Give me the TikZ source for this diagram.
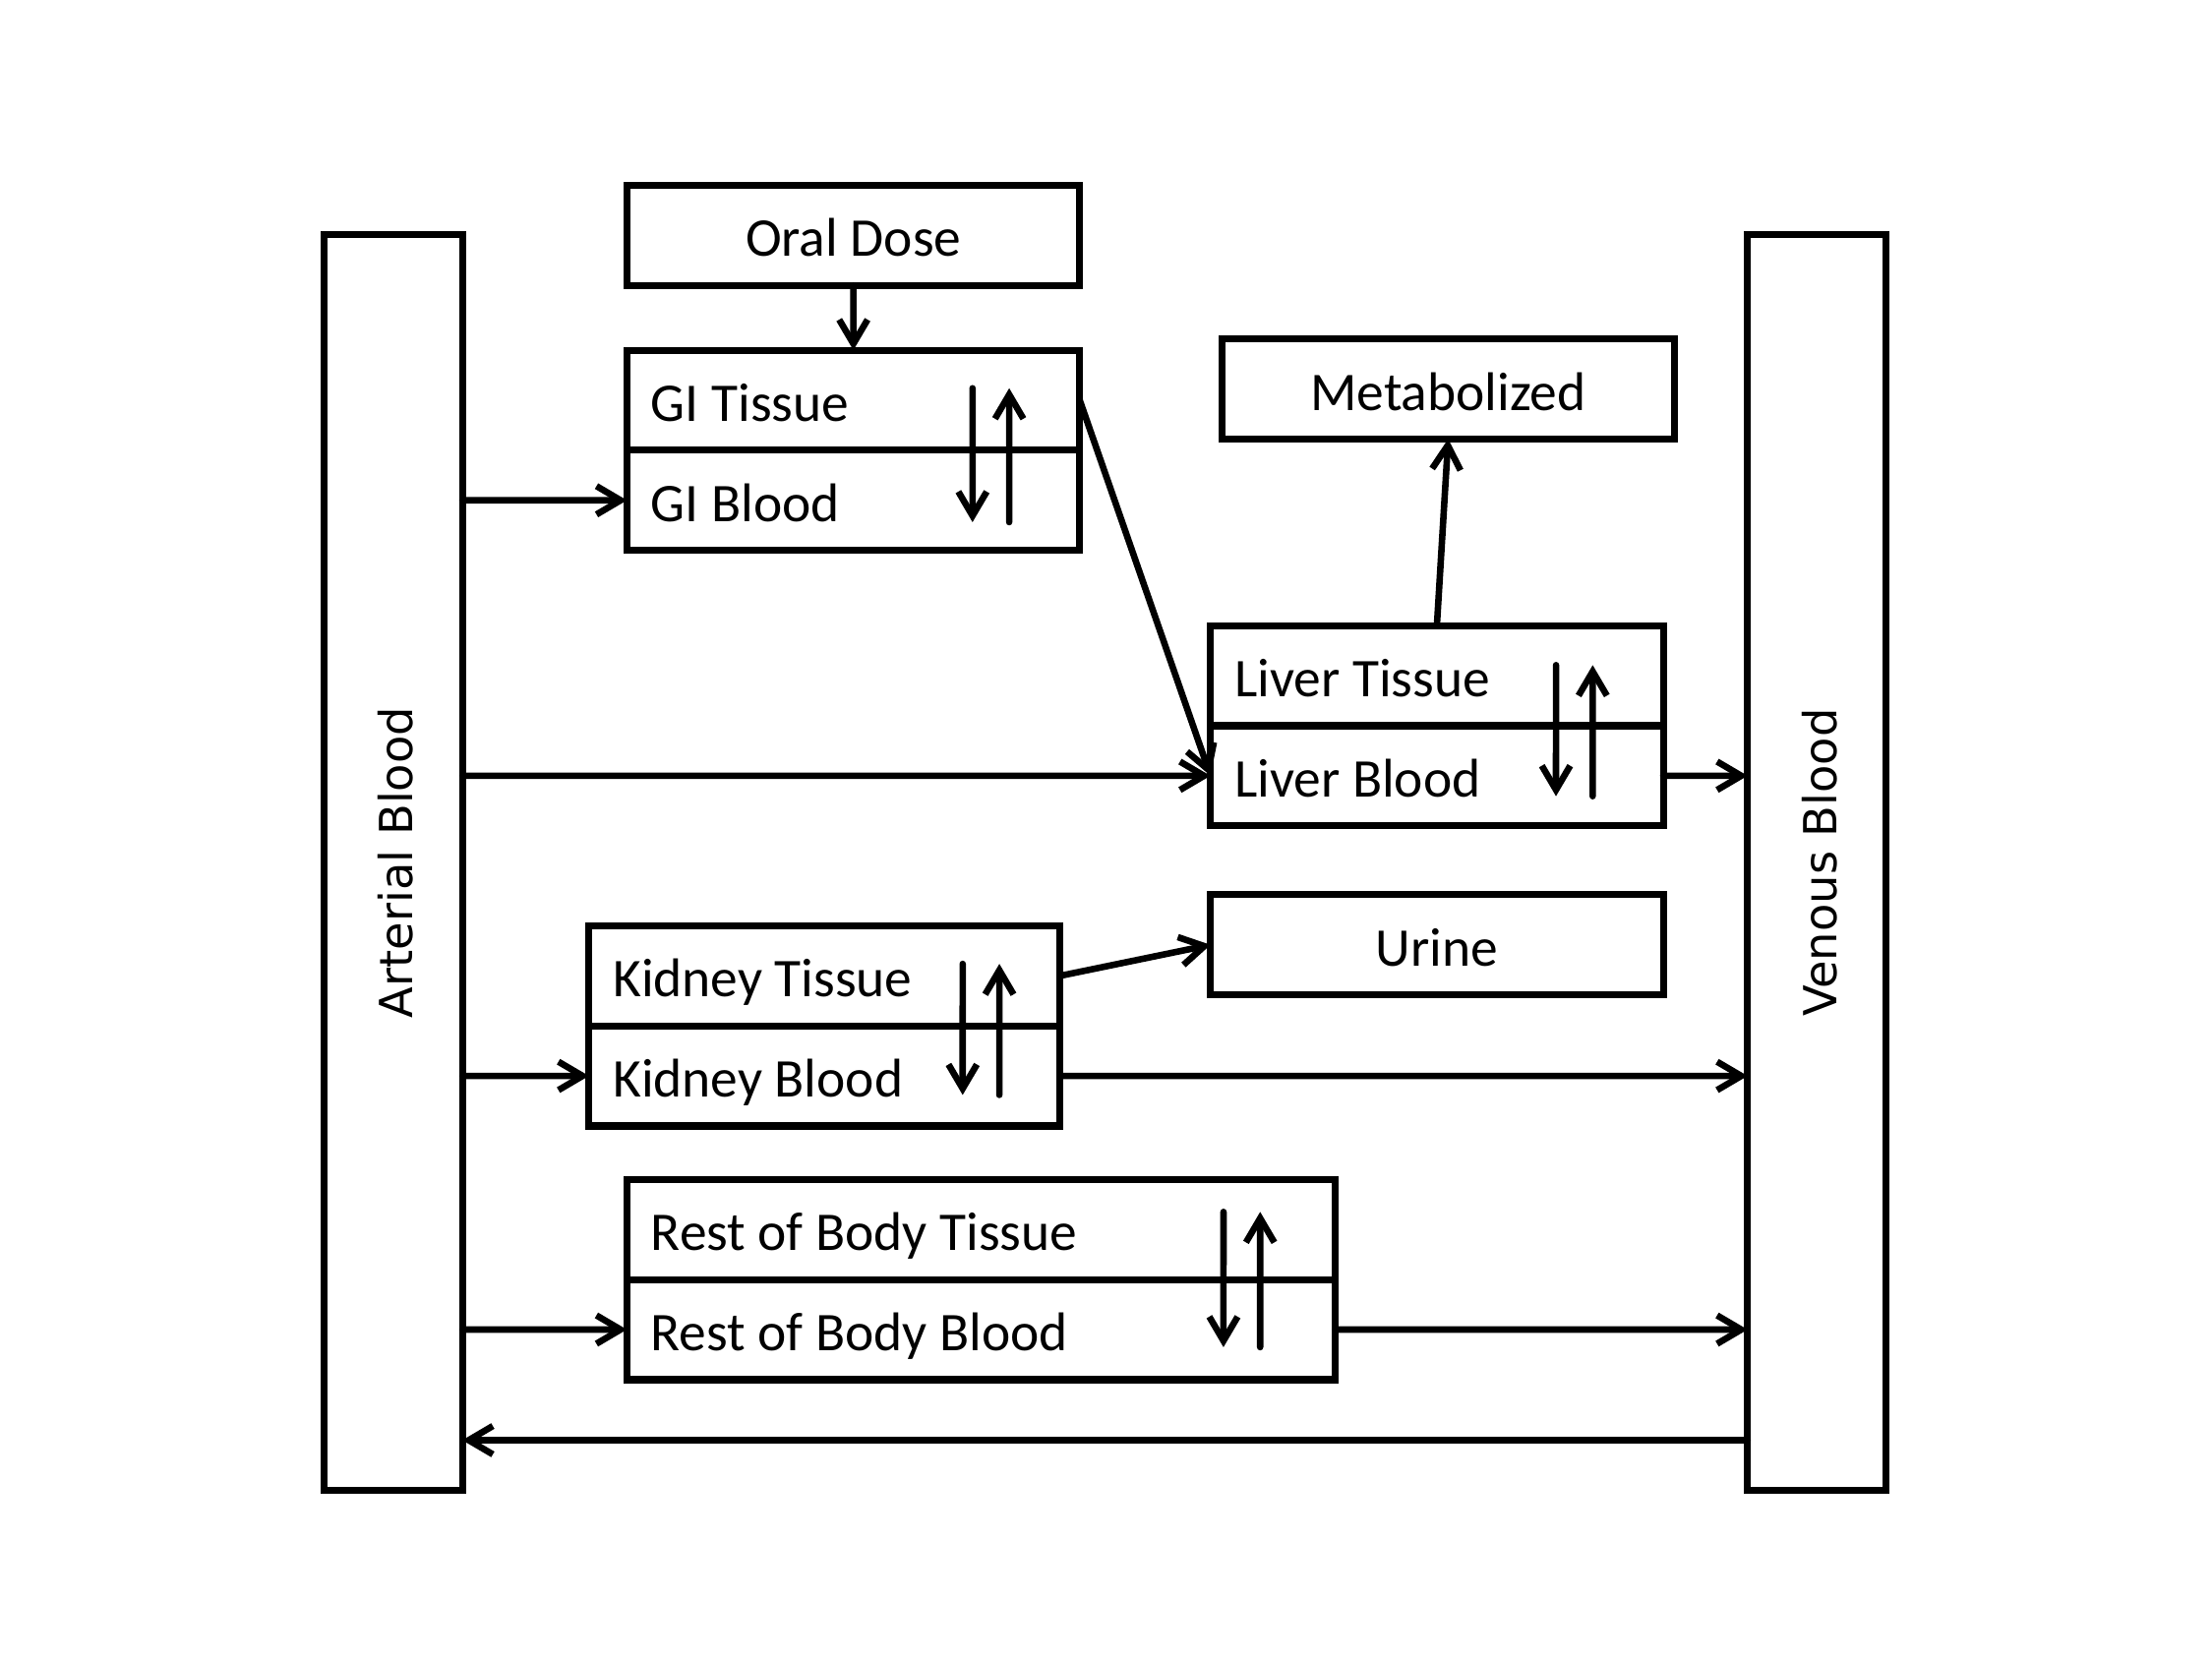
\documentclass[tikz,border=0pt]{standalone}
\usepackage{fontspec}
\setmainfont{Carlito}
\newfontfamily\poolfont{DejaVu Sans}
\usetikzlibrary{arrows.meta,positioning}

\tikzset{
  box/.style={draw,line width=1.4pt,inner sep=0pt,outer sep=0pt,minimum height=0.71cm,
    text height=0.30cm,text depth=0cm,font=\fontsize{11}{13}\selectfont},
  half/.style={box,inner xsep=0.17cm},
  pool/.style={draw,line width=1.4pt,minimum width=0.98cm,minimum height=8.9cm,
    inner sep=0pt,outer sep=0pt,font=\poolfont\fontsize{9.2}{11}\selectfont},
  flow/.style={-{Straight Barb[length=1.7mm,width=2mm]},line width=1.3pt,line cap=round}
}

\begin{document}
\begin{tikzpicture}[x=0.01cm,y=-0.01cm,scale=0.994,every node/.append style={transform shape}]
  \useasboundingbox (0,0) rectangle (1569.4,1177.1);

  \node[pool] (art) at (279,612) {\rotatebox{90}{\rule{0pt}{8pt}Arterial Blood}};
  \node[pool] (ven) at (1289,612) {\rotatebox{90}{\rule{0pt}{8pt}Venous Blood}};

  \node[box,minimum width=3.21cm] (oral) at (605.5,167) {Oral Dose};
  \node[half] (gitissue) at (605.5,284) {\makebox[2.87cm][l]{GI Tissue}};
  \node[half,below=0pt of gitissue] (giblood) {\makebox[2.87cm][l]{GI Blood}};

  \node[box,minimum width=3.21cm] (metab) at (1027.5,276) {Metabolized};
  \node[half] (livertissue) at (1019.5,479.5) {\makebox[2.87cm][l]{Liver Tissue}};
  \node[half,below=0pt of livertissue] (liverblood) {\makebox[2.87cm][l]{Liver Blood}};

  \node[box,minimum width=3.21cm] (urine) at (1019.5,670.5) {Urine};
  \node[half] (kidneytissue) at (585,692.5) {\makebox[3.0cm][l]{Kidney Tissue}};
  \node[half,below=0pt of kidneytissue] (kidneyblood) {\makebox[3.0cm][l]{Kidney Blood}};

  \node[half] (resttissue) at (696,872.5) {\makebox[4.68cm][l]{Rest of Body Tissue}};
  \node[half,below=0pt of resttissue] (restblood) {\makebox[4.68cm][l]{Rest of Body Blood}};

  % tissue <-> blood exchange
  \foreach \n/\dd/\du/\dt/\db in {gi/0.76/0.50/0.27/0.20, liver/0.76/0.50/0.28/0.21,
      kidney/0.69/0.43/0.27/0.22, rest/0.79/0.53/0.23/0.23}{
    \draw[flow] ([xshift=-\dd cm,yshift=-\dt cm]\n tissue.north east)
      -- ([xshift=-\dd cm,yshift=\db cm]\n blood.south east);
    \draw[flow] ([xshift=-\du cm,yshift=\db cm]\n blood.south east)
      -- ([xshift=-\du cm,yshift=-\dt cm]\n tissue.north east);
  }

  \coordinate (back) at (1240,1022);

  \draw[flow] (oral) -- (gitissue);
  \draw[flow] (giblood.west -| art.east) -- (giblood);
  \draw[flow] (gitissue.east) -- (liverblood.west);
  \draw[flow] (liverblood.west -| art.east) -- (liverblood);
  \draw[flow] (livertissue.north) -- (metab.south);
  \draw[flow] (liverblood) -- (liverblood.east -| ven.west);
  \draw[flow] (kidneytissue.east) -- (urine.west);
  \draw[flow] (kidneyblood.west -| art.east) -- (kidneyblood);
  \draw[flow] (kidneyblood) -- (kidneyblood.east -| ven.west);
  \draw[flow] (restblood.west -| art.east) -- (restblood);
  \draw[flow] (restblood) -- (restblood.east -| ven.west);
  \draw[flow] (back) -- (back -| art.east);
\end{tikzpicture}
\end{document}
